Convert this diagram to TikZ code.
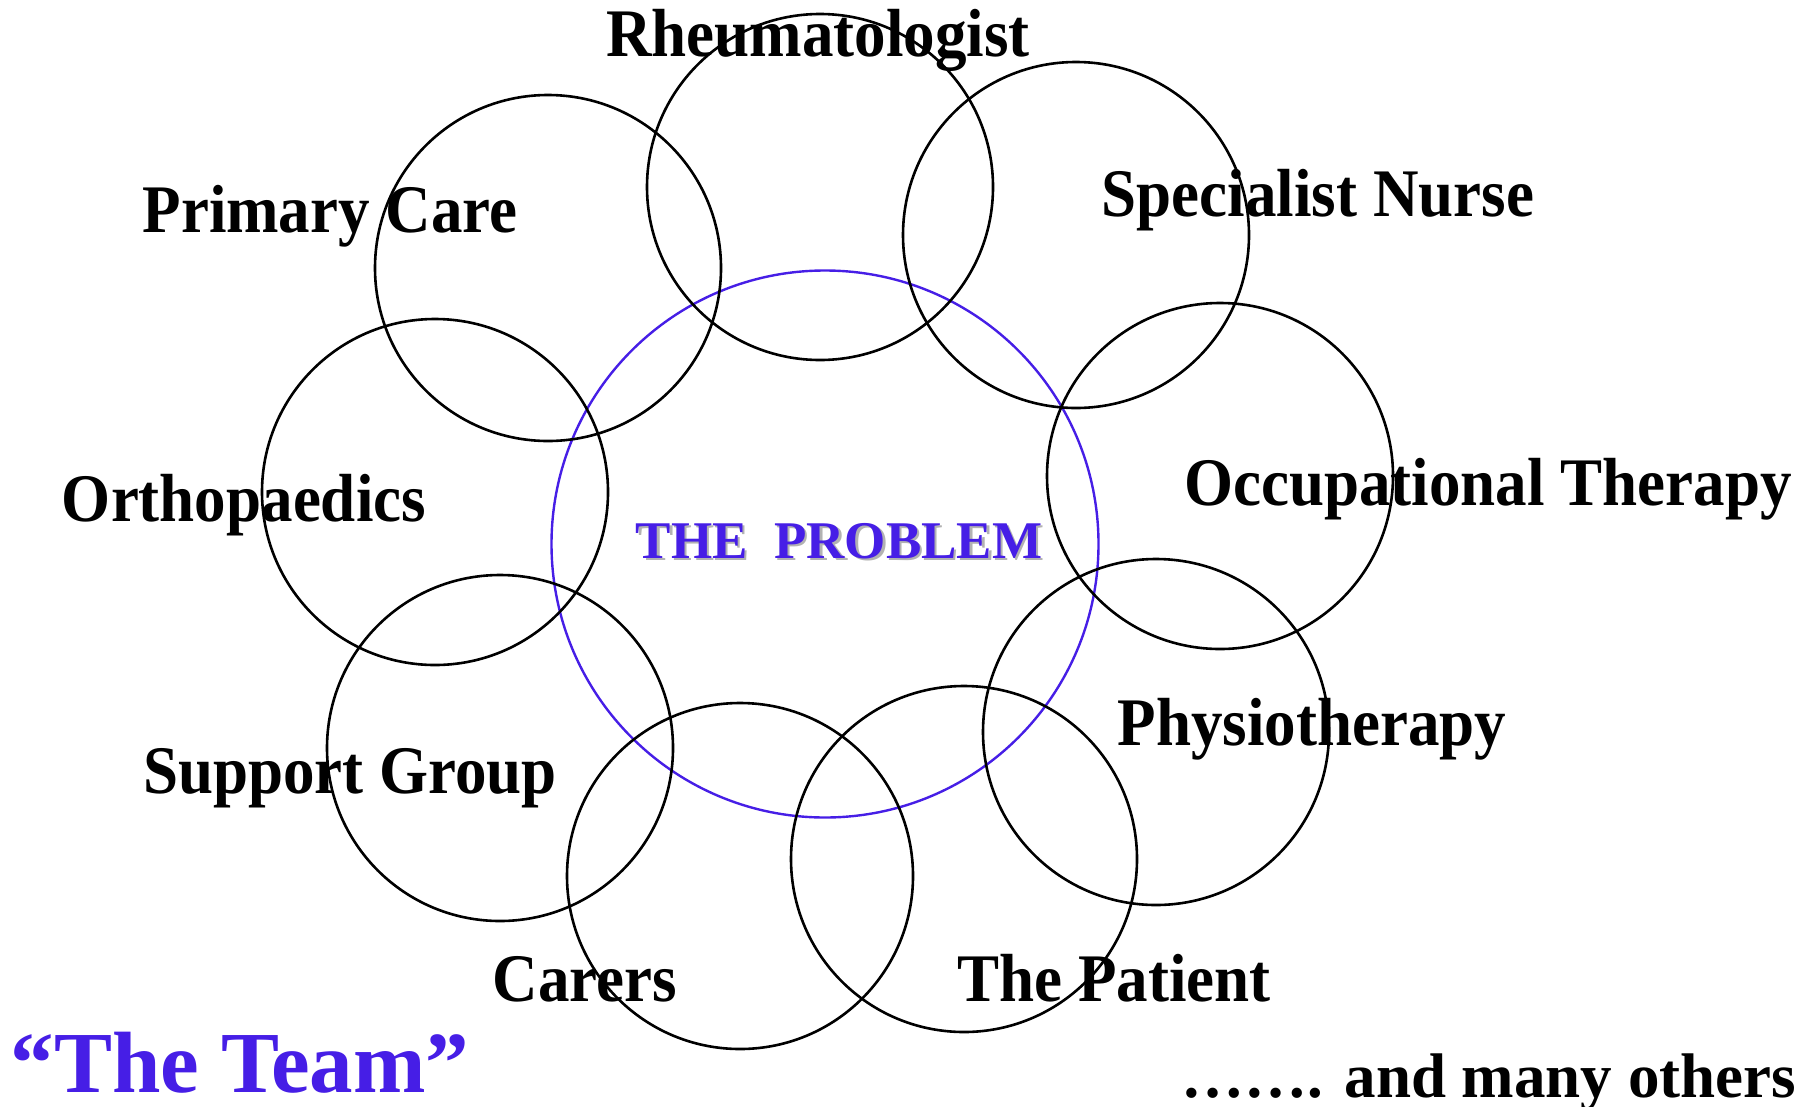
\documentclass[tikz,border=0pt]{standalone}
\usepackage{graphicx}
\usepackage{fontspec}
\setmainfont{Liberation Serif}
\usetikzlibrary{shapes.geometric}
\definecolor{teamblue}{RGB}{70,30,230}
\newcommand{\tallbold}[1]{\scalebox{1}[1.08]{#1}}
\tikzstyle{member} = [circle, draw=black, line width=2.6pt, minimum size=346pt, inner sep=0pt]
\tikzstyle{problem} = [circle, draw=teamblue, line width=2.4pt, minimum size=547pt, inner sep=0pt]
\tikzstyle{role} = [anchor=base, inner sep=0pt, font=\fontsize{63}{70}\selectfont\bfseries]

\begin{document}
\begin{tikzpicture}[x=1pt, y=-1pt]
\useasboundingbox (0,0) rectangle (1801,1106);
% the circles
\node (core) [problem] at (825,544) {};
\node (rheumC) [member] at (820,187) {};
\node (primaryC) [member] at (548,268) {};
\node (nurseC) [member] at (1076,235) {};
\node (occupC) [member] at (1220,476) {};
\node (orthoC) [member] at (435,492) {};
\node (supportC) [member] at (500,748) {};
\node (carersC) [member] at (740,876) {};
\node (patientC) [member] at (964,859) {};
\node (physioC) [member] at (1156,732) {};
% the names
\node (rheum) [role] at (818,56) {\tallbold{Rheumatologist}};
\node (primary) [role] at (330,232) {\tallbold{Primary Care}};
\node (nurse) [role] at (1318,216) {\tallbold{Specialist Nurse}};
\node (ortho) [role] at (244,521) {\tallbold{Orthopaedics}};
\node (occup) [role] at (1488,505) {\tallbold{Occupational Therapy}};
\node (physio) [role] at (1312,745) {\tallbold{Physiotherapy}};
\node (support) [role] at (350,793) {\tallbold{Support Group}};
\node (carers) [role] at (585,1001) {\tallbold{Carers}};
\node (patient) [role] at (1114,1001) {\tallbold{The Patient}};
\node (shade) [role, text=black!30, font=\fontsize{53}{60}\selectfont\bfseries] at (841.5,560.5) {THE\ \ PROBLEM};
\node (issue) [role, text=teamblue, font=\fontsize{53}{60}\selectfont\bfseries] at (839,558) {THE\ \ PROBLEM};
\node (team) [role, text=teamblue, font=\fontsize{87}{95}\selectfont\bfseries] at (240,1092) {“The Team”};
\node (others) [role] at (1489,1097) {……. and many others};
\end{tikzpicture}
\end{document}
